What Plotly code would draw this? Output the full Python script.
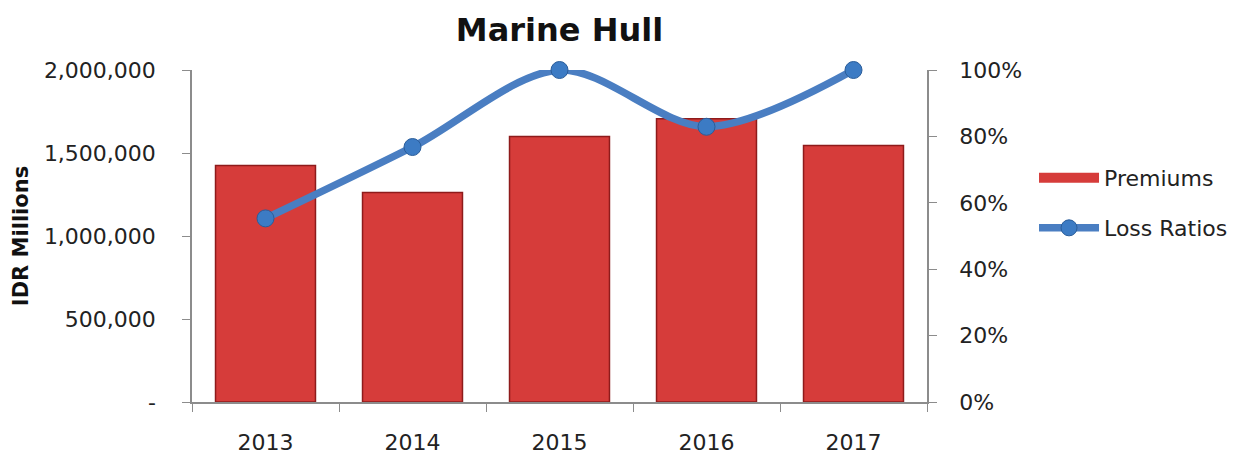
import plotly.graph_objects as go

years = ["2013", "2014", "2015", "2016", "2017"]
premiums = [1425000, 1262000, 1599000, 1707000, 1545000]
loss_ratios = [0.553, 0.768, 1.0, 0.829, 1.0]
y_tickvals = [0, 500000, 1000000, 1500000, 2000000]
y_ticktext = ["-", "500,000", "1,000,000", "1,500,000", "2,000,000"]
y2_tickvals = [0, 0.2, 0.4, 0.6, 0.8, 1.0]
y2_ticktext = ["0%", "20%", "40%", "60%", "80%", "100%"]

FONT = "DejaVu Sans"
AXIS_COLOR = "#8c8c8c"
BAR_COLOR = "#d63c3a"
LINE_COLOR = "#4a7ec2"

W, H = 1241, 446
L, R, T, B = 184, 322, 62, 52

fig = go.Figure()
fig.add_trace(go.Bar(
    x=years, y=premiums, name="Premiums",
    marker=dict(color=BAR_COLOR, line=dict(color="#8e1b1b", width=1.5)),
    width=0.68, showlegend=False,
))
# legend entry for the bars, drawn as a wide red swatch like the original
fig.add_trace(go.Scatter(
    x=[None], y=[None], name="Premiums", mode="lines",
    line=dict(color=BAR_COLOR, width=14), legend="legend",
))
fig.add_trace(go.Scatter(
    x=years, y=loss_ratios, name="Loss Ratios", yaxis="y2",
    mode="lines+markers",
    line=dict(color=LINE_COLOR, width=7.5, shape="spline", smoothing=0.9),
    marker=dict(size=17, color="#3c7bc4", line=dict(color="#2a5d9a", width=1)),
    cliponaxis=False, legend="legend2",
))

fig.update_layout(
    width=W, height=H,
    margin=dict(l=L, r=R, t=T, b=B, autoexpand=False),
    paper_bgcolor="white", plot_bgcolor="white",
    font=dict(family=FONT, size=22, color="#222222"),
    title=dict(text="<b>Marine Hull</b>", x=(L + 367.5) / W, xanchor="center",
               y=1 - 22 / H, yanchor="middle", yref="container",
               font=dict(family=FONT, size=32, color="#111111")),
    showlegend=True,
    legend=dict(x=1.1456, y=0.675, xanchor="left", yanchor="middle",
                bgcolor="rgba(0,0,0,0)", itemwidth=60,
                font=dict(family=FONT, size=22, color="#222222")),
    legend2=dict(x=1.1456, y=0.524, xanchor="left", yanchor="middle",
                 bgcolor="rgba(0,0,0,0)", itemwidth=60,
                 font=dict(family=FONT, size=22, color="#222222")),
    xaxis=dict(
        type="category", showline=True, linecolor=AXIS_COLOR, linewidth=1.5,
        ticks="outside", tickson="boundaries", ticklen=8, tickcolor=AXIS_COLOR,
        ticklabelstandoff=20, showgrid=False, zeroline=False, automargin=False,
    ),
    yaxis=dict(
        range=[0, 2000000], tickvals=y_tickvals, ticktext=y_ticktext,
        showline=True, linecolor=AXIS_COLOR, linewidth=1.5,
        ticks="outside", ticklen=8, tickcolor=AXIS_COLOR, ticklabelstandoff=22,
        showgrid=False, zeroline=False, automargin=False,
        title=dict(text="<b>IDR Millions</b>", standoff=10,
                   font=dict(family=FONT, size=21, color="#111111")),
    ),
    yaxis2=dict(
        range=[0, 1.0], overlaying="y", side="right",
        tickvals=y2_tickvals, ticktext=y2_ticktext,
        showline=True, linecolor=AXIS_COLOR, linewidth=1.5,
        ticks="outside", ticklen=8, tickcolor=AXIS_COLOR, ticklabelstandoff=18,
        showgrid=False, zeroline=False, automargin=False,
    ),
)

fig.write_html("out.html")
